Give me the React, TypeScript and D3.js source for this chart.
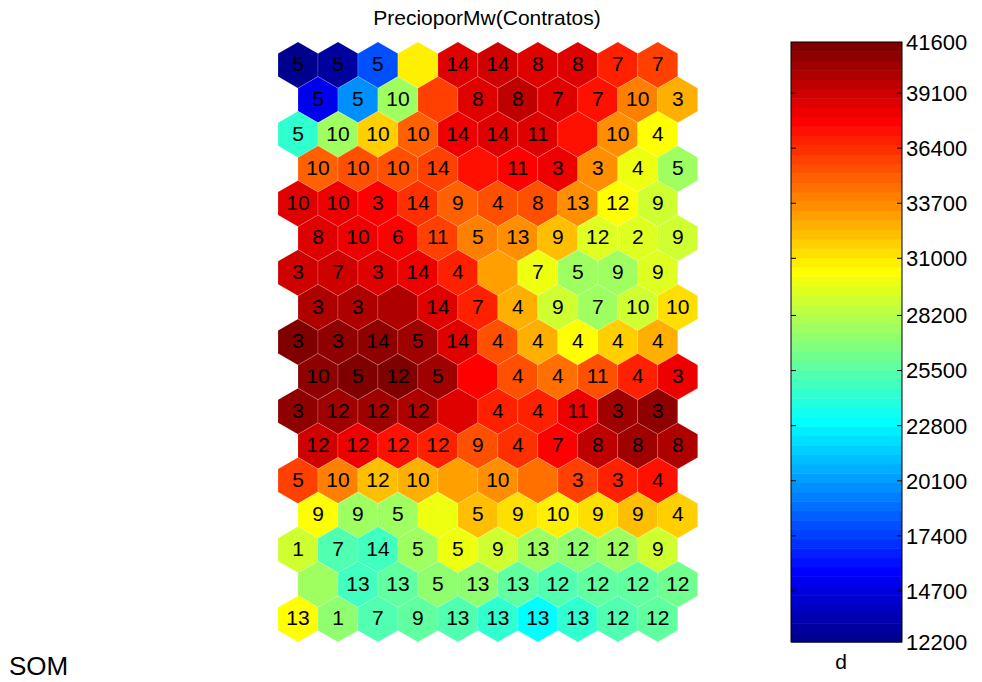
import React from "react";
import * as d3 from "d3";

// Component-plane values (PrecioporMw), row by row (17 rows x 10 columns)
const row00 = [12430, 12890, 17940, 30800, 38610, 39070, 38610, 38610, 36780, 35860];
const row01 = [15190, 19780, 27590, 35860, 38610, 39530, 38610, 37240, 34020, 32640];
const row02 = [24370, 27590, 31720, 34940, 38150, 38610, 38610, 37240, 33560, 30350];
const row03 = [34940, 35400, 35400, 35860, 37240, 37700, 38150, 33560, 29890, 27590];
const row04 = [38610, 38150, 37700, 36320, 34940, 35400, 35400, 33560, 30350, 28970];
const row05 = [38610, 38150, 37700, 35860, 34020, 33560, 32180, 29430, 29430, 28970];
const row06 = [39070, 39070, 38610, 38150, 36780, 33100, 29890, 27590, 27590, 29430];
const row07 = [39990, 39990, 39990, 38610, 36780, 32640, 28970, 27590, 28970, 31260];
const row08 = [41370, 40910, 40910, 40450, 38610, 35400, 32640, 30350, 31720, 32640];
const row09 = [40910, 41370, 41370, 40450, 37700, 35400, 34480, 35400, 36780, 38150];
const row10 = [40910, 40450, 40450, 39990, 38610, 36780, 36780, 38150, 40450, 40910];
const row11 = [39070, 38150, 37240, 36780, 35400, 36320, 37700, 39530, 40450, 39990];
const row12 = [35860, 34020, 32180, 32640, 33100, 33560, 34480, 35860, 36780, 37240];
const row13 = [30350, 27590, 27590, 29890, 32180, 31260, 30800, 31260, 32180, 31720];
const row14 = [28970, 25290, 24830, 27590, 29890, 28970, 27590, 27130, 27590, 28970];
const row15 = [27590, 24830, 25750, 27130, 27130, 25750, 25290, 25750, 25750, 26210];
const row16 = [30350, 27130, 25290, 25750, 25290, 24370, 23000, 24370, 25290, 25750];

// Hit labels on each unit
const lab00 = ["5", "5", "5", "", "14", "14", "8", "8", "7", "7"];
const lab01 = ["5", "5", "10", "", "8", "8", "7", "7", "10", "3"];
const lab02 = ["5", "10", "10", "10", "14", "14", "11", "", "10", "4"];
const lab03 = ["10", "10", "10", "14", "", "11", "3", "3", "4", "5"];
const lab04 = ["10", "10", "3", "14", "9", "4", "8", "13", "12", "9"];
const lab05 = ["8", "10", "6", "11", "5", "13", "9", "12", "2", "9"];
const lab06 = ["3", "7", "3", "14", "4", "", "7", "5", "9", "9"];
const lab07 = ["3", "3", "", "14", "7", "4", "9", "7", "10", "10"];
const lab08 = ["3", "3", "14", "5", "14", "4", "4", "4", "4", "4"];
const lab09 = ["10", "5", "12", "5", "", "4", "4", "11", "4", "3"];
const lab10 = ["3", "12", "12", "12", "", "4", "4", "11", "3", "3"];
const lab11 = ["12", "12", "12", "12", "9", "4", "7", "8", "8", "8"];
const lab12 = ["5", "10", "12", "10", "", "10", "", "3", "3", "4"];
const lab13 = ["9", "9", "5", "", "5", "9", "10", "9", "9", "4"];
const lab14 = ["1", "7", "14", "5", "5", "9", "13", "12", "12", "9"];
const lab15 = ["", "13", "13", "5", "13", "13", "12", "12", "12", "12"];
const lab16 = ["13", "1", "7", "9", "13", "13", "13", "13", "12", "12"];

const valueRows = [row00, row01, row02, row03, row04, row05, row06, row07, row08, row09, row10, row11, row12, row13, row14, row15, row16];
const labelRows = [lab00, lab01, lab02, lab03, lab04, lab05, lab06, lab07, lab08, lab09, lab10, lab11, lab12, lab13, lab14, lab15, lab16];

const colorMin = 12200;
const colorMax = 41600;
const tickLabels = [12200, 14700, 17400, 20100, 22800, 25500, 28200, 31000, 33700, 36400, 39100, 41600];

const title = "PrecioporMw(Contratos)";
const cbLabel = "d";
const cornerLabel = "SOM";

// MATLAB jet(64)
function jet64(i: number): string {
  const b = i <= 8 ? (8 + i) / 16 : i <= 24 ? 1 : i <= 40 ? (40 - i) / 16 : 0;
  const g = i <= 8 ? 0 : i <= 24 ? (i - 8) / 16 : i <= 40 ? 1 : i <= 56 ? (56 - i) / 16 : 0;
  const r = i <= 24 ? 0 : i <= 40 ? (i - 24) / 16 : i <= 56 ? 1 : (72 - i) / 16;
  return d3.rgb(r * 255, g * 255, b * 255).formatHex();
}

const idxScale = d3.scaleQuantize<number>().domain([colorMin, colorMax]).range(d3.range(1, 65));
const colorOf = (v: number) => jet64(idxScale(v));

const FONT = "Liberation Sans, Arial, Helvetica, sans-serif";

export default function App() {
  const nRows = valueRows.length;
  const top = 42;
  const bottom = 642;
  const r = (bottom - top) / (1.5 * (nRows - 1) + 2);
  const hw = (Math.sqrt(3) / 2) * r;
  const x = d3.scaleLinear().domain([0, 1]).range([298, 298 + 2 * hw]);
  const y = d3.scaleLinear().domain([0, nRows - 1]).range([top + r, bottom - r]);

  const hexPath = (cx: number, cy: number) => {
    const pts: [number, number][] = [
      [cx, cy - r],
      [cx + hw, cy - r / 2],
      [cx + hw, cy + r / 2],
      [cx, cy + r],
      [cx - hw, cy + r / 2],
      [cx - hw, cy - r / 2],
    ];
    return "M" + pts.map((p) => p.join(",")).join("L") + "Z";
  };

  const cells: { cx: number; cy: number; v: number; lab: string; key: string }[] = [];
  valueRows.forEach((row, ri) => {
    row.forEach((v, ci) => {
      const cx = x(ci + (ri % 2 === 1 ? 0.5 : 0));
      const cy = y(ri);
      cells.push({ cx, cy, v, lab: labelRows[ri][ci], key: `${ri}-${ci}` });
    });
  });

  const cbX0 = 791;
  const cbX1 = 902;
  const cbY = d3.scaleLinear().domain([colorMin, colorMax]).range([bottom, top]);
  const bands = d3.range(1, 65);
  const step = (colorMax - colorMin) / 64;

  return (
    <svg width={982} height={682} style={{ position: "absolute", left: 0, top: 0, background: "#fff" }} fontFamily={FONT}>
      <rect x={0} y={0} width={982} height={682} fill="#fff" />
      <text x={487} y={25} fontSize={21} textAnchor="middle" fill="#000">{title}</text>
      <g>
        {cells.map((c) => (
          <path key={c.key} d={hexPath(c.cx, c.cy)} fill={colorOf(c.v)} stroke="rgba(255,255,255,0.28)" strokeWidth={0.6} />
        ))}
        {cells.map((c) =>
          c.lab ? (
            <text key={"t" + c.key} x={c.cx} y={c.cy} dy="0.3em" fontSize={21} textAnchor="middle" fill="#000">
              {c.lab}
            </text>
          ) : null
        )}
      </g>
      <g>
        {bands.map((i) => {
          const v0 = colorMin + (i - 1) * step;
          const v1 = colorMin + i * step;
          return (
            <rect key={i} x={cbX0} y={cbY(v1)} width={cbX1 - cbX0} height={cbY(v0) - cbY(v1) + 0.5} fill={jet64(i)} />
          );
        })}
        <rect x={cbX0} y={top} width={cbX1 - cbX0} height={bottom - top} fill="none" stroke="#000" strokeWidth={1} />
        {tickLabels.map((t) => (
          <g key={t}>
            {t !== colorMin && t !== colorMax ? (
              <>
                <line x1={cbX0} x2={cbX0 + 5} y1={cbY(t)} y2={cbY(t)} stroke="#000" />
                <line x1={cbX1 - 5} x2={cbX1} y1={cbY(t)} y2={cbY(t)} stroke="#000" />
              </>
            ) : null}
            <text x={906} y={cbY(t)} dy="0.36em" fontSize={22} fill="#000">{t}</text>
          </g>
        ))}
        <text x={841} y={669} fontSize={21} textAnchor="middle" fill="#000">{cbLabel}</text>
      </g>
      <text x={9} y={675} fontSize={26} fill="#000">{cornerLabel}</text>
    </svg>
  );
}
